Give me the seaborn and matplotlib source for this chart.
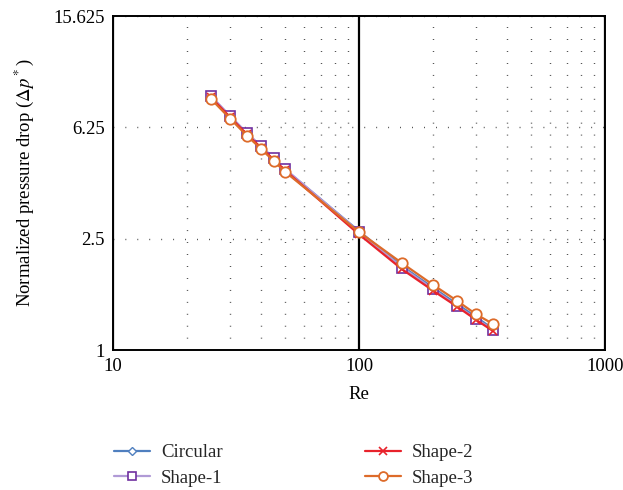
import numpy as np
import pandas as pd
import matplotlib
matplotlib.use("Agg")
import matplotlib.pyplot as plt
import matplotlib.ticker as mticker
import seaborn as sns

# Data
re_vals = [25, 30, 35, 40, 45, 50, 100, 150, 200, 250, 300, 350]
circular = [8.05, 6.82, 5.95, 5.33, 4.83, 4.42, 2.66, 1.99, 1.67, 1.46, 1.31, 1.19]
shape_1 = [8.09, 6.85, 5.97, 5.35, 4.85, 4.44, 2.65, 1.97, 1.65, 1.44, 1.29, 1.18]
shape_2 = [8.00, 6.78, 5.90, 5.29, 4.79, 4.39, 2.59, 1.94, 1.63, 1.43, 1.28, 1.17]
shape_3 = [7.90, 6.70, 5.84, 5.23, 4.74, 4.34, 2.64, 2.04, 1.71, 1.50, 1.34, 1.24]

y_ticks = [1, 2.5, 6.25, 15.625]
y_tick_labels = ["1", "2.5", "6.25", "15.625"]
x_ticks = [10, 100, 1000]
x_tick_labels = ["10", "100", "1000"]

sns.set_theme(style="white")
plt.rcParams['font.family'] = ['Liberation Serif', 'DejaVu Serif']
plt.rcParams['mathtext.fontset'] = 'stix'

fig = plt.figure(figsize=(6.23, 4.9), dpi=100)
ax = fig.add_axes([113/623, 1 - 350/490, 492/623, 334/490])

series = [
    ("Circular", circular, dict(color="#4f7fbf", marker="D", ms=4.5, mfc="white", mec="#4f7fbf", mew=1.0)),
    ("Shape-1", shape_1, dict(color="#b09ad6", marker="s", ms=7, mfc="white", mec="#7030a0", mew=1.2)),
    ("Shape-2", shape_2, dict(color="#e8222b", marker="x", ms=6, mec="#e8222b", mew=1.2)),
    ("Shape-3", shape_3, dict(color="#dd6b2a", marker="o", ms=7.5, mfc="white", mec="#dd6b2a", mew=1.3)),
]
for name, vals, st in series:
    df = pd.DataFrame({"Re": re_vals, "dp": vals})
    sns.lineplot(data=df, x="Re", y="dp", ax=ax, label=name, lw=1.6, **st)

ax.set_xscale("log")
ax.set_yscale("log", base=2.5)
ax.set_xlim(10, 1000)
ax.set_ylim(1, 15.625)

ax.set_xticks(x_ticks)
ax.set_xticklabels(x_tick_labels)
ax.xaxis.set_minor_locator(mticker.LogLocator(base=10, subs=np.arange(2, 10)))
ax.xaxis.set_minor_formatter(mticker.NullFormatter())
ax.set_yticks(y_ticks)
ax.set_yticklabels(y_tick_labels)
ax.yaxis.set_minor_locator(mticker.NullLocator())

ax.tick_params(which="both", length=0, labelsize=13.5, colors="black", pad=6)

ax.grid(which="minor", axis="x", color="#333333", lw=1.0, ls=(0, (0.6, 8)))
ax.grid(which="major", axis="x", color="black", lw=1.6, ls="-")
ax.grid(which="major", axis="y", color="#333333", lw=1.0, ls=(0, (0.6, 8)))
ax.set_axisbelow(True)

for sp in ax.spines.values():
    sp.set_color("black")
    sp.set_linewidth(1.4)

ax.set_xlabel("Re", fontsize=13.5, labelpad=8, color="black")
ax.set_ylabel(r"Normalized pressure drop ($\Delta p^*$)", fontsize=13.5, labelpad=12, color="black")

ax.get_legend().remove()
handles, labels = ax.get_legend_handles_labels()
fig.legend(handles, labels, ncol=2, loc="center left", bbox_to_anchor=(97/623, 0.050),
           frameon=False, fontsize=13.5, handlelength=1.9, handletextpad=0.6,
           columnspacing=7.6, labelspacing=0.45, markerscale=0.85)

fig.savefig("out.png", dpi=100)
